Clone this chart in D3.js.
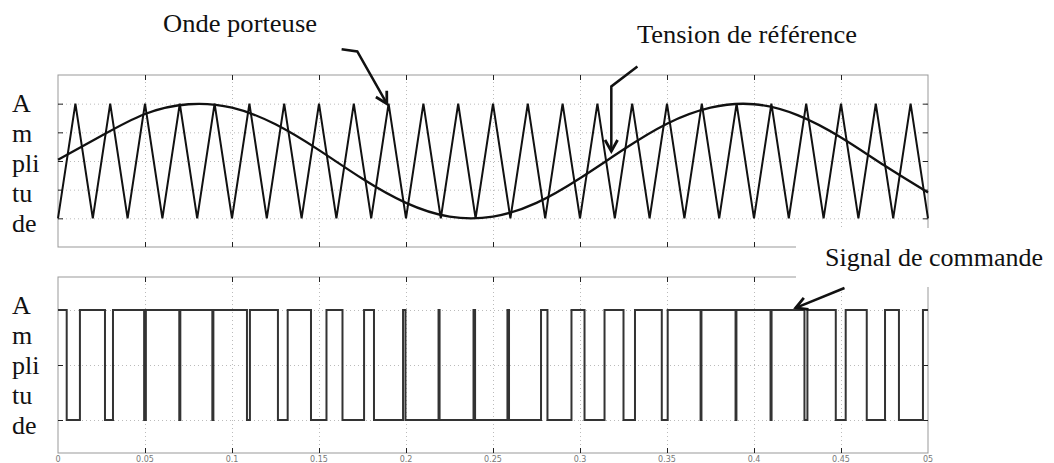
<!DOCTYPE html>
<html>
<head>
<meta charset="utf-8">
<script src="https://cdn.jsdelivr.net/npm/d3@7"></script>
<style>
  body { margin: 0; background: #fff; }
  .lbl { font-family: 'Liberation Serif', 'Times New Roman', serif; font-size: 26px; fill: #111; }
  .tick-lbl { font-family: 'DejaVu Sans', sans-serif; font-size: 8px; fill: #777; }
</style>
</head>
<body>
<div id="chart"></div>
<script>
// time axis (s)
var xTicks = [0, 0.05, 0.1, 0.15, 0.2, 0.25, 0.3, 0.35, 0.4, 0.45, 0.5];
var xTickLabels = ['0', '0.05', '0.1', '0.15', '0.2', '0.25', '0.3', '0.35', '0.4', '0.45', '05'];
var topTicks = [-1, -0.5, 0, 0.5, 1];
var botTicks = [0, 0.5, 1];

// carrier (triangle) vertices
var carrierT = [0, 0.01, 0.02, 0.03, 0.04, 0.05, 0.06, 0.07, 0.08, 0.09,
  0.1, 0.11, 0.12, 0.13, 0.14, 0.15, 0.16, 0.17, 0.18, 0.19,
  0.2, 0.21, 0.22, 0.23, 0.24, 0.25, 0.26, 0.27, 0.28, 0.29,
  0.3, 0.31, 0.32, 0.33, 0.34, 0.35, 0.36, 0.37, 0.38, 0.39,
  0.4, 0.41, 0.42, 0.43, 0.44, 0.45, 0.46, 0.47, 0.48, 0.49, 0.5];
var carrierV = [-1, 1, -1, 1, -1, 1, -1, 1, -1, 1,
  -1, 1, -1, 1, -1, 1, -1, 1, -1, 1,
  -1, 1, -1, 1, -1, 1, -1, 1, -1, 1,
  -1, 1, -1, 1, -1, 1, -1, 1, -1, 1,
  -1, 1, -1, 1, -1, 1, -1, 1, -1, 1, -1];

// reference voltage
var sineT = [0, 0.025, 0.05, 0.075, 0.1, 0.125, 0.15, 0.175, 0.2, 0.225,
  0.25, 0.275, 0.3, 0.325, 0.35, 0.375, 0.4, 0.425, 0.45, 0.475, 0.5];
var sineV = [0.02, 0.44, 0.82, 0.99, 0.93, 0.64, 0.19, -0.31, -0.73, -0.97,
  -0.97, -0.73, -0.30, 0.20, 0.65, 0.93, 0.99, 0.80, 0.41, -0.08, -0.55];

// command signal: starts high, toggles at each edge
var pwmStart = 1;
var pwmEdges = [0.0050, 0.0126, 0.0270, 0.0316, 0.0495, 0.0505, 0.0697, 0.0703,
  0.0887, 0.0893, 0.1086, 0.1103, 0.1264, 0.1320, 0.1454, 0.1543, 0.1635, 0.1759,
  0.1816, 0.1983, 0.1997, 0.2187, 0.2193, 0.2388, 0.2397, 0.2583, 0.2592, 0.2776,
  0.2813, 0.2951, 0.3026, 0.3141, 0.3250, 0.3316, 0.3470, 0.3504, 0.3693, 0.3698,
  0.3894, 0.3899, 0.4095, 0.4101, 0.4290, 0.4307, 0.4470, 0.4527, 0.4648, 0.4753,
  0.4833, 0.4971];

var width = 1054, height = 463;

var svg = d3.select('#chart').append('svg')
  .attr('width', width)
  .attr('height', height)
  .style('background', '#fff');

var defs = svg.append('defs');
defs.append('marker')
  .attr('id', 'arr')
  .attr('viewBox', '0 0 12 12')
  .attr('refX', 10).attr('refY', 6)
  .attr('markerWidth', 15).attr('markerHeight', 15)
  .attr('markerUnits', 'userSpaceOnUse')
  .attr('orient', 'auto')
  .append('path')
  .attr('d', 'M1,1 L10,6 L1,11')
  .attr('fill', 'none')
  .attr('stroke', '#111')
  .attr('stroke-width', 2.2);

var x = d3.scaleLinear().domain([0, 0.5]).range([58, 928]);
var yTop = d3.scaleLinear().domain([-1.5, 1.5]).range([247, 75]);
var yBot = d3.scaleLinear().domain([-0.3, 1.3]).range([453, 277]);

function panel(y, yTicks) {
  var g = svg.append('g');
  var y0 = y.range()[0], y1 = y.range()[1];
  var x0 = x.range()[0], x1 = x.range()[1];

  // dotted grid
  g.append('g')
    .attr('transform', 'translate(0,' + y0 + ')')
    .call(d3.axisBottom(x).tickValues(xTicks.slice(1, -1)).tickSize(-(y0 - y1)).tickFormat(''))
    .call(function(a) { a.select('.domain').remove(); })
    .selectAll('line').attr('stroke', '#bbb').attr('stroke-dasharray', '1,3');
  g.append('g')
    .attr('transform', 'translate(' + x0 + ',0)')
    .call(d3.axisLeft(y).tickValues(yTicks).tickSize(-(x1 - x0)).tickFormat(''))
    .call(function(a) { a.select('.domain').remove(); })
    .selectAll('line').attr('stroke', '#bbb').attr('stroke-dasharray', '1,3');

  // frame
  g.append('rect')
    .attr('x', x0).attr('y', y1)
    .attr('width', x1 - x0).attr('height', y0 - y1)
    .attr('fill', 'none').attr('stroke', '#999');

  // small inward ticks
  var inner = xTicks.slice(1, -1);
  [[d3.axisBottom(x).tickValues(inner), 'translate(0,' + y0 + ')'],
   [d3.axisTop(x).tickValues(inner), 'translate(0,' + y1 + ')'],
   [d3.axisLeft(y).tickValues(yTicks), 'translate(' + x0 + ',0)'],
   [d3.axisRight(y).tickValues(yTicks), 'translate(' + x1 + ',0)']].forEach(function(p) {
    g.append('g')
      .attr('transform', p[1])
      .call(p[0].tickSize(-5).tickFormat(''))
      .call(function(a) { a.select('.domain').remove(); })
      .selectAll('line').attr('stroke', '#222');
  });
  return g;
}

var gTop = panel(yTop, topTicks);
var gBot = panel(yBot, botTicks);

// carrier
var carrier = carrierT.map(function(t, i) { return [t, carrierV[i]]; });
gTop.append('path')
  .datum(carrier)
  .attr('fill', 'none')
  .attr('stroke', '#111')
  .attr('stroke-width', 2)
  .attr('d', d3.line().x(function(d) { return x(d[0]); }).y(function(d) { return yTop(d[1]); }));

// reference
var sine = sineT.map(function(t, i) { return [t, sineV[i]]; });
gTop.append('path')
  .datum(sine)
  .attr('fill', 'none')
  .attr('stroke', '#111')
  .attr('stroke-width', 2.3)
  .attr('d', d3.line().curve(d3.curveNatural).x(function(d) { return x(d[0]); }).y(function(d) { return yTop(d[1]); }));

// command signal
var pwm = [[0, pwmStart]];
var lvl = pwmStart;
pwmEdges.forEach(function(t) { lvl = 1 - lvl; pwm.push([t, lvl]); });
pwm.push([0.5, lvl]);
gBot.append('path')
  .datum(pwm)
  .attr('fill', 'none')
  .attr('stroke', '#333')
  .attr('stroke-width', 2)
  .attr('d', d3.line().curve(d3.curveStepAfter).x(function(d) { return x(d[0]); }).y(function(d) { return yBot(d[1]); }));

// tick labels, tiny, just under the lower panel
svg.selectAll('.tick-lbl')
  .data(xTicks)
  .enter().append('text')
  .attr('class', 'tick-lbl')
  .attr('x', function(d) { return x(d); })
  .attr('y', 462)
  .attr('text-anchor', 'middle')
  .text(function(d, i) { return xTickLabels[i]; });

// label box hides top-right corner of the lower panel
svg.append('rect')
  .attr('x', 796).attr('y', 228)
  .attr('width', 258).attr('height', 59)
  .attr('fill', '#fff');

// annotations
var lineTop = d3.line().x(function(d) { return x(d[0]); }).y(function(d) { return yTop(d[1]); });
var lineBot = d3.line().x(function(d) { return x(d[0]); }).y(function(d) { return yBot(d[1]); });
var ondeArrow = [[0.163, 1.95], [0.172, 1.91], [0.189, 1.0]];
var tensionArrow = [[0.333, 1.65], [0.318, 1.3], [0.318, 0.17]];
var signalArrow = [[0.452, 1.2], [0.424, 1.02]];

svg.append('path').attr('d', lineTop(ondeArrow));
svg.append('path').attr('d', lineTop(tensionArrow));
svg.append('path').attr('d', lineBot(signalArrow));
svg.selectAll('path:not([stroke])')
  .attr('fill', 'none')
  .attr('stroke', '#111')
  .attr('stroke-width', 2.5)
  .attr('marker-end', 'url(#arr)');

svg.append('text').attr('class', 'lbl').attr('x', 163).attr('y', 32)
  .attr('textLength', 154).attr('lengthAdjust', 'spacingAndGlyphs').text('Onde porteuse');
svg.append('text').attr('class', 'lbl').attr('x', 637).attr('y', 43)
  .attr('textLength', 220).attr('lengthAdjust', 'spacingAndGlyphs').text('Tension de référence');
svg.append('text').attr('class', 'lbl').attr('x', 825).attr('y', 266)
  .attr('textLength', 218).attr('lengthAdjust', 'spacingAndGlyphs').text('Signal de commande');

var ampl = ['A', 'm', 'pli', 'tu', 'de'];
[112, 314].forEach(function(base) {
  svg.selectAll(null)
    .data(ampl)
    .enter().append('text')
    .attr('class', 'lbl')
    .attr('x', 12)
    .attr('y', function(d, i) { return base + i * 30; })
    .text(function(d) { return d; });
});
</script>
</body>
</html>
